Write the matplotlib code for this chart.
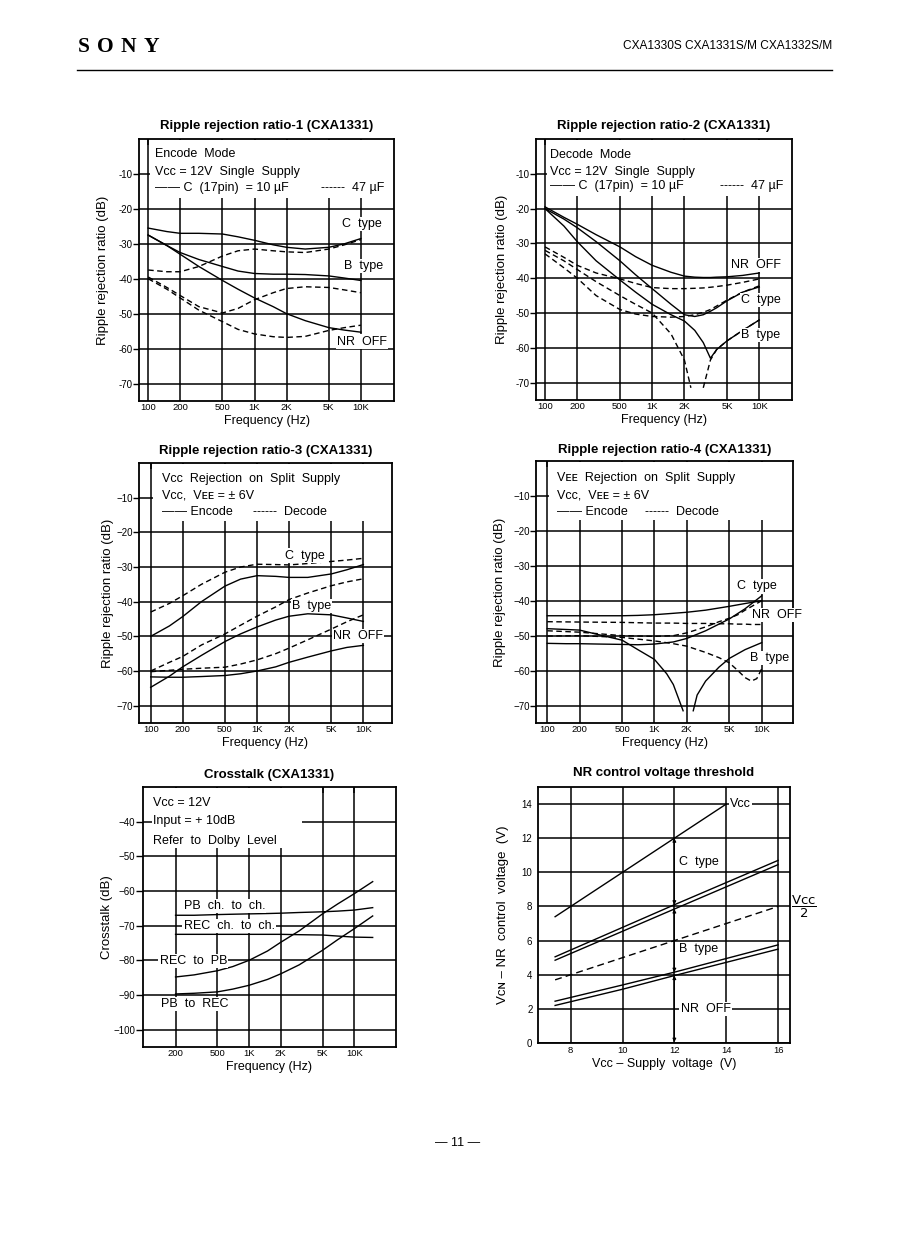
import numpy as np
import matplotlib.pyplot as plt

plt.rcParams['font.family'] = ['Liberation Sans', 'DejaVu Sans']

# ---- Ripple rejection ratio-1 (encode, single supply)
f1 = [100, 150, 200, 300, 500, 700, 1000, 1500, 2000, 3000, 5000, 7000, 10000]
r1_c_10 = [-25.5, -26.5, -27, -27, -27.2, -28, -29, -30.3, -31, -31.5, -31, -30, -28.5]
r1_b_10 = [-27.5, -30.5, -32.5, -34.5, -36.5, -37.8, -38.5, -38.7, -38.7, -38.8, -39.2, -39.8, -40.5]
r1_nr_10 = [-27.5, -30.5, -33, -36.5, -40.5, -43, -45.5, -48, -50, -52, -54, -54.7, -55.3]
r1_c_47 = [-37.5, -38, -38, -36.5, -33.5, -32, -31.5, -32, -32.3, -32.5, -31.5, -30.3, -28.8]
r1_b_47 = [-39.5, -42.5, -44.8, -48, -49.8, -48.5, -46, -44, -42.8, -42.3, -42.5, -43.2, -44]
r1_nr_47 = [-40, -43, -45.5, -49, -52.3, -54.5, -55.8, -56.6, -56.8, -56.5, -54.8, -54, -53.3]

# ---- Ripple rejection ratio-2 (decode, single supply)
f2 = [100, 150, 200, 300, 500, 700, 1000, 1500, 2000, 2500, 3000, 3500, 4000, 5000, 7000, 10000]
r2_nr_10 = [-19.5, -22.5, -24.5, -27.5, -31, -33.8, -36.3, -38.3, -39.4, -39.7, -39.8, -39.8, -39.7, -39.6, -39.2, -38.5]
r2_c_10 = [-20, -23, -25.5, -29.5, -35, -39, -43, -47.5, -50.5, -51, -50.5, -49.5, -48.5, -46.5, -44, -42.5]
r2_b_10 = [-20, -25, -29.5, -35, -40.5, -44, -47.5, -50.5, -52.3, -55, -58.5, -63, -60.5, -58, -55, -52]
r2_nr_47 = [-31, -34, -36.3, -38.5, -40.2, -41.5, -42.7, -43, -43, -42.9, -42.8, -42.6, -42.4, -42, -41.2, -40.2]
r2_c_47 = [-33, -37, -40, -45, -49, -50.3, -51, -51.2, -51, -50.5, -49.8, -49, -48, -46.3, -44, -42.2]
f2_b47a = [100, 150, 200, 300, 500, 700, 1000, 1500, 2000, 2300]
r2_b_47a = [-32, -35, -37.5, -41, -45, -47.5, -50, -56, -63.5, -71.5]
f2_b47b = [3000, 3500, 4000, 5000, 7000, 10000]
r2_b_47b = [-71.5, -63.5, -60.5, -58, -55, -52]

# ---- Ripple rejection ratio-3 (Vcc rejection, split supply)
f3 = [100, 150, 200, 300, 500, 700, 1000, 1500, 2000, 3000, 5000, 7000, 10000]
r3_c_enc = [-50, -47, -44.3, -40, -35.5, -33.5, -32.5, -32.7, -33, -33, -32, -30.8, -29.3]
r3_c_dec = [-43, -40.5, -38.3, -35, -31.5, -30, -29.2, -29.3, -29.4, -29, -28.4, -28, -27.5]
r3_b_enc = [-64.7, -61.5, -58.8, -55.5, -51.5, -49.3, -47.3, -45.3, -44.2, -43.5, -43.8, -44.7, -45.7]
r3_b_dec = [-60, -57.5, -55.8, -52.5, -49.3, -46.8, -44.2, -41.5, -39.4, -37.5, -35.4, -34.3, -33.4]
r3_nr_enc = [-61.7, -61.8, -61.8, -61.6, -61.3, -60.8, -60, -58.8, -57.5, -56, -54.2, -53.2, -52.6]
r3_nr_dec = [-60.2, -59.8, -59.5, -59.2, -58.9, -58, -56.8, -55, -53.4, -51, -47.9, -45.8, -43.8]

# ---- Ripple rejection ratio-4 (VEE rejection, split supply)
f4 = [100, 150, 200, 300, 500, 700, 1000, 1500, 2000, 3000, 5000, 7000, 10000]
r4_top_enc = [-44.3, -44.3, -44.3, -44.3, -44.3, -44.2, -44, -43.6, -43.3, -42.7, -41.6, -40.8, -40]
r4_rise_enc = [-52.2, -52.3, -52.3, -52.4, -52.5, -52.6, -52.4, -51.8, -50.8, -48.6, -45.2, -42.3, -38.6]
f4_dip_a = [100, 200, 300, 500, 700, 1000, 1300, 1500, 1850]
r4_dip_a = [-48, -48.4, -49.7, -51.3, -54, -56.8, -60.9, -64, -71.5]
f4_dip_b = [2300, 2500, 3000, 4000, 5000, 7000, 10000]
r4_dip_b = [-71.5, -67, -63, -59, -56.5, -54, -52]
f4d = [100, 200, 500, 1000, 1500, 2000, 3000, 4000, 5000, 6000, 7000, 8000, 9000, 10000]
r4_nr_dec = [-46, -46.1, -46.2, -46.4, -46.4, -46.5, -46.5, -46.6, -46.6, -46.7, -46.7, -46.8, -46.8, -46.8]
r4_c_dec = [-48.6, -49, -50, -50.2, -50, -49.2, -47.5, -46, -45, -44, -42.7, -41.7, -40.8, -40]
r4_b_dec = [-50.1, -50, -50.5, -51.5, -52.3, -53, -54.8, -56.3, -57.8, -60, -62, -63, -62.3, -59.5]

# ---- Crosstalk
f5 = [200, 300, 500, 700, 1000, 1500, 2000, 3000, 5000, 7000, 10000, 15000]
x_pb_ch = [-67, -67, -66.8, -66.7, -66.6, -66.5, -66.4, -66.2, -66, -65.8, -65.5, -64.8]
x_rec_ch = [-72.5, -72.5, -72.5, -72.5, -72.5, -72.5, -72.5, -72.6, -72.7, -73, -73.3, -73.4]
x_rec_pb = [-84.8, -84.2, -83, -81.8, -80, -77.3, -74.8, -71.5, -66.6, -63.7, -60.8, -57.3]
x_pb_rec = [-89.7, -89.5, -89.1, -88.3, -87.2, -85.5, -83.9, -81.3, -77.1, -74, -70.9, -67.2]

# ---- NR control voltage threshold
vcc_x = [7.4, 14]
vcc_y = [7.4, 14]
vc3 = [7.4, 12, 16]
c_hi = [5.05, 8.1, 10.7]
c_lo = [4.85, 7.85, 10.45]
vh = [7.4, 16]
half = [3.7, 8.0]
vb4 = [7.4, 10, 12, 16]
b_hi = [2.45, 3.4, 4.15, 5.75]
b_lo = [2.2, 3.15, 3.95, 5.5]

ftick = [100, 200, 500, 1000, 2000, 5000, 10000]
ftick_lab = ['100', '200', '500', '1K', '2K', '5K', '10K']
rr_ticks = [-10, -20, -30, -40, -50, -60, -70]

W, H = 899, 1260
fig = plt.figure(figsize=(W / 100, H / 100), dpi=100)


def box(l, t, r, b):
    return fig.add_axes([l / W, 1 - b / H, (r - l) / W, (b - t) / H])


SOL = dict(color='k', lw=1.0, zorder=3)
DSH = dict(color='k', lw=1.0, ls=(0, (4, 2.5)), zorder=3)
LAB = dict(fontsize=9, ha='left', va='center', zorder=5,
           bbox=dict(fc='white', ec='none', pad=0.8))


def frame(ax, xlim, ylim, xt, xtl, yt, ytl, title, tpad, xlabel, ylabel, ylab_x, logx=True):
    if logx:
        ax.set_xscale('log')
    ax.set_xlim(xlim)
    ax.set_ylim(ylim)
    ax.set_xticks(xt)
    ax.set_xticklabels(xtl)
    ax.xaxis.set_minor_locator(plt.NullLocator())
    ax.set_yticks(yt)
    ax.set_yticklabels(ytl)
    ax.tick_params(axis='x', bottom=False, top=True, direction='in', length=4,
                   width=1.1, labelsize=6.8, pad=1.5)
    ax.tick_params(axis='y', length=4, width=1, labelsize=7, pad=0.5)
    ax.grid(True, color='k', lw=1.1)
    ax.set_axisbelow(True)
    for s in ax.spines.values():
        s.set_linewidth(1.3)
    ax.set_title(title, fontsize=9.5, fontweight='bold', pad=tpad)
    ax.set_xlabel(xlabel, fontsize=9, labelpad=2)
    ax.set_ylabel(ylabel, fontsize=9.5)
    ax.yaxis.set_label_coords(ylab_x, 0.5)


def blank_top(ax, x0, y0):
    lo, hi = ax.get_ylim()
    ax.axvspan(x0, ax.get_xlim()[1], ymin=(y0 - lo) / (hi - lo), ymax=0.995,
               color='white', lw=0, zorder=1)


# ---------------- chart 1
ax = box(139, 139, 394, 401)
frame(ax, (82, 20500), (-75, 0), ftick, ftick_lab, rr_ticks, [str(v) for v in rr_ticks],
      'Ripple rejection ratio-1 (CXA1331)', 7, 'Frequency (Hz)',
      'Ripple rejection ratio (dB)', -0.118)
blank_top(ax, 104, -16.8)
for y in (r1_c_10, r1_b_10, r1_nr_10):
    ax.plot(f1, y, **SOL)
for y in (r1_c_47, r1_b_47, r1_nr_47):
    ax.plot(f1, y, **DSH)
ax.text(116, -4.3, 'Encode  Mode', **LAB)
ax.text(116, -9.4, 'Vcc = 12V  Single  Supply', **LAB)
ax.text(116, -14, '—— C  (17pin)  = 10 µF', **LAB)
ax.text(16500, -14, '------  47 µF', **dict(LAB, ha='right'))
ax.text(6700, -24.4, 'C  type', **LAB)
ax.text(6900, -36.3, 'B  type', **LAB)
ax.text(6000, -58, 'NR  OFF', **LAB)

# ---------------- chart 2
ax = box(536, 139, 792, 400)
frame(ax, (82.4, 20200), (-75, 0), ftick, ftick_lab, rr_ticks, [str(v) for v in rr_ticks],
      'Ripple rejection ratio-2 (CXA1331)', 7, 'Frequency (Hz)',
      'Ripple rejection ratio (dB)', -0.11)
blank_top(ax, 104, -16.5)
for y in (r2_nr_10, r2_c_10, r2_b_10):
    ax.plot(f2, y, **SOL)
for y in (r2_nr_47, r2_c_47):
    ax.plot(f2, y, **DSH)
ax.plot(f2_b47a, r2_b_47a, **DSH)
ax.plot(f2_b47b, r2_b_47b, **DSH)
ax.text(111, -4.6, 'Decode  Mode', **LAB)
ax.text(111, -9.5, 'Vcc = 12V  Single  Supply', **LAB)
ax.text(111, -13.6, '—— C  (17pin)  = 10 µF', **LAB)
ax.text(16700, -13.6, '------  47 µF', **dict(LAB, ha='right'))
ax.text(5500, -36.2, 'NR  OFF', **LAB)
ax.text(6700, -46.3, 'C  type', **LAB)
ax.text(6800, -56.4, 'B  type', **LAB)

# ---------------- chart 3
m_ticks = ['−' + str(-v) for v in rr_ticks]
ax = box(139, 463, 392, 723)
frame(ax, (77.6, 18600), (-75, 0), ftick, ftick_lab, rr_ticks, m_ticks,
      'Ripple rejection ratio-3 (CXA1331)', 6.5, 'Frequency (Hz)',
      'Ripple rejection ratio (dB)', -0.098)
blank_top(ax, 104, -16.8)
for y in (r3_c_enc, r3_b_enc, r3_nr_enc):
    ax.plot(f3, y, **SOL)
for y in (r3_c_dec, r3_b_dec, r3_nr_dec):
    ax.plot(f3, y, **DSH)
ax.text(127, -4.7, 'Vcc  Rejection  on  Split  Supply', **LAB)
ax.text(127, -9.5, 'Vcc,  Vᴇᴇ = ± 6V', **LAB)
ax.text(127, -14.2, '—— Encode', **LAB)
ax.text(923, -14.2, '------  Decode', **LAB)
ax.text(1830, -26.7, 'C  type', **LAB)
ax.text(2130, -41.3, 'B  type', **LAB)
ax.text(5200, -50, 'NR  OFF', **LAB)

# ---------------- chart 4
ax = box(536, 461, 793, 723)
frame(ax, (78.5, 19600), (-75, 0), ftick, ftick_lab, rr_ticks, m_ticks,
      'Ripple rejection ratio-4 (CXA1331)', 6, 'Frequency (Hz)',
      'Ripple rejection ratio (dB)', -0.117)
blank_top(ax, 104, -17)
ax.plot(f4, r4_top_enc, **SOL)
ax.plot(f4, r4_rise_enc, **SOL)
ax.plot(f4_dip_a, r4_dip_a, **SOL)
ax.plot(f4_dip_b, r4_dip_b, **SOL)
for y in (r4_nr_dec, r4_c_dec, r4_b_dec):
    ax.plot(f4d, y, **DSH)
ax.text(122, -4.9, 'Vᴇᴇ  Rejection  on  Split  Supply', **LAB)
ax.text(122, -9.8, 'Vcc,  Vᴇᴇ = ± 6V', **LAB)
ax.text(122, -14.6, '—— Encode', **LAB)
ax.text(815, -14.6, '------  Decode', **LAB)
ax.text(5900, -35.9, 'C  type', **LAB)
ax.text(8100, -44, 'NR  OFF', **LAB)
ax.text(7800, -56.4, 'B  type', **LAB)

# ---------------- chart 5 crosstalk
ct_ticks = [-40, -50, -60, -70, -80, -90, -100]
ax = box(143, 787, 396, 1047)
frame(ax, (98, 25000), (-105, -30), ftick[1:], ftick_lab[1:], ct_ticks,
      ['−' + str(-v) for v in ct_ticks], 'Crosstalk (CXA1331)', 6.3,
      'Frequency (Hz)', 'Crosstalk (dB)', -0.12)
ax.tick_params(axis='y', length=5)
ax.axvspan(190, 3200, ymin=(-47.5 + 105) / 75, ymax=0.995, color='white', lw=0, zorder=1)
for y in (x_pb_ch, x_rec_ch, x_rec_pb, x_pb_rec):
    ax.plot(f5, y, **SOL)
ax.text(122, -34.7, 'Vcc = 12V', **LAB)
ax.text(122, -39.9, 'Input = + 10dB', **LAB)
ax.text(122, -45.5, 'Refer  to  Dolby  Level', **LAB)
ax.text(238, -64.4, 'PB  ch.  to  ch.', **LAB)
ax.text(238, -70, 'REC  ch.  to  ch.', **LAB)
ax.text(141, -80.1, 'REC  to  PB', **LAB)
ax.text(146, -92.7, 'PB  to  REC', **LAB)

# ---------------- chart 6 NR control voltage threshold
ax = box(538, 787, 790, 1043)
frame(ax, (6.74, 16.46), (0, 15), [8, 10, 12, 14, 16], ['8', '10', '12', '14', '16'],
      [0, 2, 4, 6, 8, 10, 12, 14], ['0', '2', '4', '6', '8', '10', '12', '14'],
      'NR control voltage threshold', 8, 'Vcc – Supply  voltage  (V)',
      'Vᴄɴ – NR  control  voltage  (V)', -0.114, logx=False)
ax.tick_params(axis='x', top=False, length=0, pad=2.5)
ax.tick_params(axis='y', length=0, pad=4)
ax.plot(vcc_x, vcc_y, **SOL)
ax.plot(vc3, c_hi, **SOL)
ax.plot(vc3, c_lo, **SOL)
ax.plot(vh, half, **dict(DSH, ls=(0, (5, 3))))
ax.plot(vb4, b_hi, **SOL)
ax.plot(vb4, b_lo, **SOL)
c12 = np.interp(12, vc3, c_hi)
c12l = np.interp(12, vc3, c_lo)
b12 = np.interp(12, vb4, b_hi)
b12l = np.interp(12, vb4, b_lo)
for y0, y1 in [(12, c12), (c12l, b12), (b12l, 0.05)]:
    ax.annotate('', xy=(12, y1), xytext=(12, y0),
                arrowprops=dict(arrowstyle='<|-|>', lw=0.8, color='k',
                                mutation_scale=5, shrinkA=0, shrinkB=0), zorder=4)
ax.text(14.16, 14.03, 'Vcc', **LAB)
ax.text(12.18, 10.58, 'C  type', **LAB)
ax.text(12.18, 5.48, 'B  type', **LAB)
ax.text(12.24, 2.0, 'NR  OFF', **LAB)
ax.text(17.0, 8.0, r'$\dfrac{\mathrm{Vcc}}{2}$', fontsize=9.5, ha='center', va='center',
        clip_on=False)

# ---------------- page header / footer
for ch, xc in zip('SONY', [83.8, 105, 128, 151]):
    fig.text(xc / W, 1 - 47 / H, ch, family='Liberation Serif', fontweight='bold',
             fontsize=15.5, ha='center', va='center')
fig.text(832 / W, 1 - 45.7 / H, 'CXA1330S CXA1331S/M CXA1332S/M', ha='right',
         va='center', fontsize=8.6)
fig.add_artist(plt.Line2D([77 / W, 832 / W], [1 - 70 / H, 1 - 70 / H], color='k', lw=1))
fig.text(458 / W, 1 - 1143 / H, '— 11 —', ha='center', va='center', fontsize=9)

fig.savefig('out.png', dpi=100)
